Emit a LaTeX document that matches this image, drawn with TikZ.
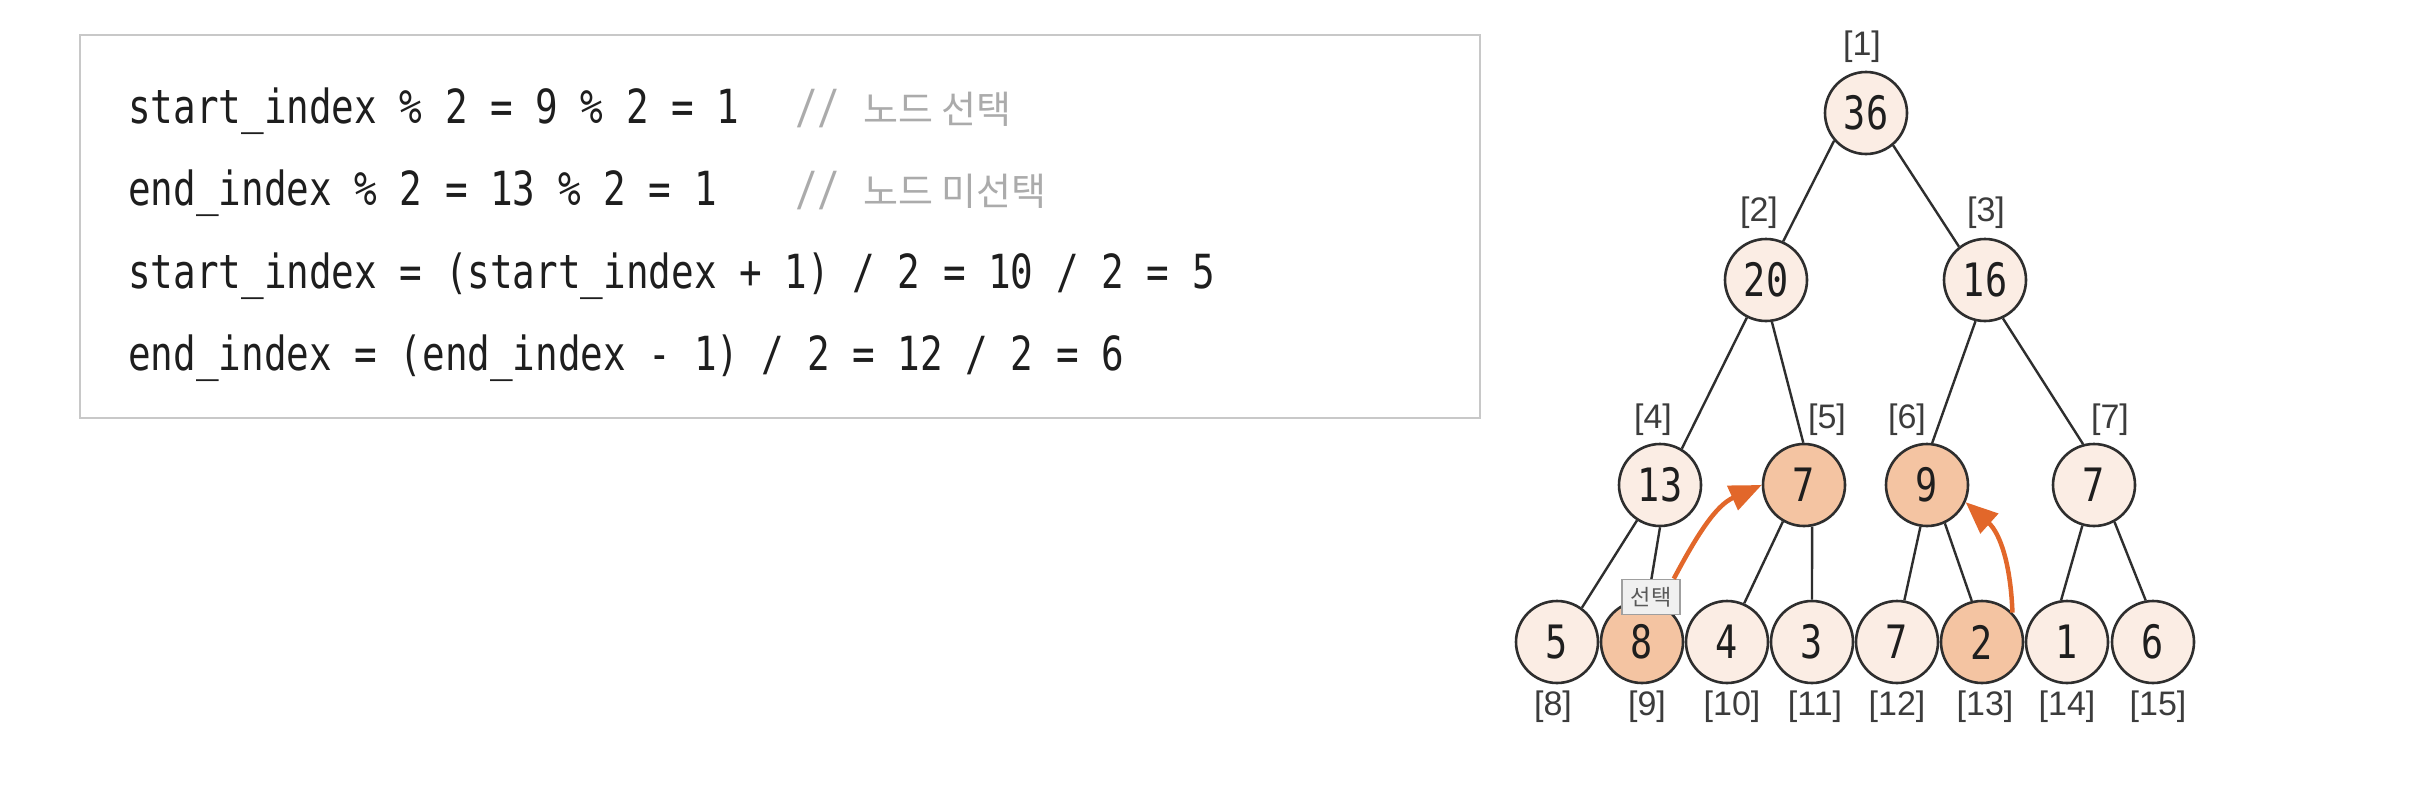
\documentclass[tikz,border=0pt]{standalone}
\usepackage{fontspec}
\newfontfamily\codefont[FakeStretch=0.8]{DejaVu Sans Mono}
\newfontfamily\krfont{Noto Sans CJK KR}
\newfontfamily\labfont{Liberation Sans}
\usetikzlibrary{arrows.meta}
\definecolor{nodelight}{HTML}{FBEDE4}
\definecolor{nodehl}{HTML}{F4C4A2}
\definecolor{edgecol}{HTML}{2E2E2E}
\definecolor{arrowcol}{HTML}{E2672A}
\definecolor{boxcol}{HTML}{C8C8C8}
\definecolor{commentcol}{HTML}{ABABAB}
\definecolor{labcol}{HTML}{3C3C3C}
\definecolor{textcol}{HTML}{1E1E1E}
\begin{document}
\begin{tikzpicture}[x=1pt,y=1pt,
  tn/.style={circle, draw=edgecol, line width=2.6pt, minimum size=82pt, inner sep=0pt, fill=nodelight, font=\codefont\fontsize{46}{50}\selectfont, text=textcol},
  hl/.style={tn, fill=nodehl},
  idx/.style={font=\labfont\fontsize{34}{36}\selectfont, text=labcol, inner sep=0pt},
  code/.style={anchor=base west, inner sep=0pt, font=\codefont\fontsize{47}{50}\selectfont, text=textcol},
  cmt/.style={anchor=base west, inner sep=0pt, text=commentcol},
  edge/.style={draw=edgecol, line width=2.4pt},
  selarrow/.style={-{Triangle[length=32pt,width=26pt]}, draw=arrowcol, line width=4.5pt},
  selbox/.style={draw=gray!75, fill=gray!12, line width=1.5pt, inner sep=2pt, minimum width=58pt, minimum height=35pt, font=\krfont\fontsize{22}{24}\selectfont, text=black!65}
]
\useasboundingbox[fill=white] (0,0) rectangle (2410,-790);

% code box
\draw[boxcol, line width=2.5pt, fill=white] (80,-35) rectangle (1480,-418);
\node[code] (c1) at (128,-123) {start\_index \% 2 = 9 \% 2 = 1};
\node[code] (c2) at (128,-205) {end\_index \% 2 = 13 \% 2 = 1};
\node[code] (c3) at (128,-288) {start\_index = (start\_index + 1) / 2 = 10 / 2 = 5};
\node[code] (c4) at (128,-370) {end\_index = (end\_index - 1) / 2 = 12 / 2 = 6};
\node[cmt] (m1) at (795,-123) {{\codefont\fontsize{47}{50}\selectfont //\ }{\krfont\fontsize{38}{40}\selectfont 노드 선택}};
\node[cmt] (m2) at (795,-205) {{\codefont\fontsize{47}{50}\selectfont //\ }{\krfont\fontsize{38}{40}\selectfont 노드 미선택}};

% tree nodes
\node[tn] (n1) at (1866,-113) {36};
\node[tn] (n2) at (1766,-280) {20};
\node[tn] (n3) at (1985,-280) {16};
\node[tn] (n4) at (1660,-485) {13};
\node[hl] (n5) at (1804,-485) {7};
\node[hl] (n6) at (1927,-485) {9};
\node[tn] (n7) at (2094,-485) {7};
\node[tn] (n8) at (1557,-642) {5};
\node[hl] (n9) at (1642,-642) {8};
\node[tn] (n10) at (1727,-642) {4};
\node[tn] (n11) at (1812,-642) {3};
\node[tn] (n12) at (1897,-642) {7};
\node[hl] (n13) at (1982,-642) {2};
\node[tn] (n14) at (2067,-642) {1};
\node[tn] (n15) at (2153,-642) {6};

% index labels
\node[idx] (l1) at (1862,-47) {[1]};
\node[idx] (l2) at (1759,-213) {[2]};
\node[idx] (l3) at (1986,-213) {[3]};
\node[idx] (l4) at (1653,-420) {[4]};
\node[idx] (l5) at (1827,-420) {[5]};
\node[idx] (l6) at (1907,-420) {[6]};
\node[idx] (l7) at (2110,-420) {[7]};
\node[idx] (l8) at (1553,-707) {[8]};
\node[idx] (l9) at (1647,-707) {[9]};
\node[idx] (l10) at (1732,-707) {[10]};
\node[idx] (l11) at (1815,-707) {[11]};
\node[idx] (l12) at (1897,-707) {[12]};
\node[idx] (l13) at (1985,-707) {[13]};
\node[idx] (l14) at (2067,-707) {[14]};
\node[idx] (l15) at (2158,-707) {[15]};

% edges
\draw[edge] (n1.221) -- (n2.66);
\draw[edge] (n1.310) -- (n3.128);
\draw[edge] (n2.243) -- (n4.59);
\draw[edge] (n2.278) -- (n5.91);
\draw[edge] (n3.257) -- (n6.83);
\draw[edge] (n3.295) -- (n7.105);
\draw[edge] (n4.237) -- (n8.54);
\draw[edge] (n4.270) -- (n9.82);
\draw[edge] (n5.240) -- (n10.66);
\draw[edge] (n5.281) -- (n11.90);
\draw[edge] (n6.261) -- (n12.80);
\draw[edge] (n6.295) -- (n13.104);
\draw[edge] (n7.254) -- (n14.98);
\draw[edge] (n7.299) -- (n15.100);

% selection label and arrows
\node[selbox] (sel) at (1651,-597) {선택};
\draw[selarrow] ([xshift=-7pt]sel.north east) to[out=62, in=204] (n5.180);
\draw[selarrow] (n13.44) to[out=92, in=318] (n6.336);
\end{tikzpicture}
\end{document}
